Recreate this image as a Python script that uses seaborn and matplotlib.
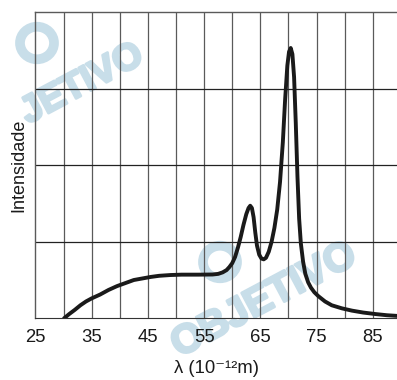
import numpy as np
import pandas as pd
import matplotlib
matplotlib.use('Agg')
import matplotlib.pyplot as plt
import matplotlib.patheffects as pe
from matplotlib.patches import Circle
import seaborn as sns

# curve (y in grid units, 0..4)
lam = [30.1, 31.0, 32.0, 33.0, 34.0, 35.0, 36.5, 38.0, 39.5, 41.0, 42.5,
       44.0, 45.5, 47.0, 49.0, 51.0, 54.0, 56.5, 57.5, 58.3, 59.0, 59.5,
       60.0, 60.5, 61.0, 61.5, 62.0, 62.5, 62.9, 63.2, 63.5, 63.8, 64.1,
       64.4, 64.8, 65.2, 65.6, 66.0, 66.5, 67.0, 67.5, 68.0, 68.5, 69.0,
       69.4, 69.8, 70.1, 70.4, 70.7, 71.0, 71.3, 71.6, 71.9, 72.2, 72.6,
       73.0, 73.5, 74.0, 74.6, 75.3, 76.5, 77.7, 79.5, 81.3, 83.3, 85.4,
       87.5, 89.6]
intens = [0.0, 0.055, 0.11, 0.17, 0.22, 0.26, 0.31, 0.37, 0.42, 0.46, 0.50,
          0.52, 0.54, 0.555, 0.565, 0.57, 0.57, 0.572, 0.58, 0.60, 0.63, 0.67,
          0.72, 0.80, 0.92, 1.06, 1.22, 1.36, 1.44, 1.47, 1.44, 1.32, 1.12,
          0.95, 0.83, 0.78, 0.77, 0.79, 0.87, 1.00, 1.18, 1.42, 1.78, 2.30,
          2.85, 3.30, 3.48, 3.53, 3.45, 3.15, 2.55, 1.85, 1.30, 0.98, 0.74,
          0.58, 0.47, 0.40, 0.34, 0.29, 0.22, 0.17, 0.13, 0.10, 0.075, 0.056,
          0.04, 0.03]
xticks = [25, 35, 45, 55, 65, 75, 85]

sns.set_style('white')
plt.rcParams['font.family'] = ['Liberation Sans', 'DejaVu Sans']

W, H = 397, 380
fig = plt.figure(figsize=(W / 100, H / 100), dpi=100)
ax = fig.add_axes([35.4 / W, 61.7 / H, 361.6 / W, 306.3 / H])

# "OBJETIVO" watermark, faint, under everything
wm = '#c8dee9'
thick = [pe.withStroke(linewidth=2, foreground=wm)]
for (px, py, s, fs) in [(82, 84, 'JETIVO', 27), (264, 300, 'OBJETIVO', 29)]:
    ax.text(px / W, 1 - py / H, s, transform=fig.transFigure,
            rotation=28, color=wm, fontsize=fs, fontweight='bold',
            ha='center', va='center', zorder=0, clip_on=False,
            path_effects=thick)
for (px, py) in [(37, 43), (220, 262)]:
    ax.add_patch(Circle((px / W, 1 - py / H), 17 / W, transform=fig.transFigure,
                        fill=False, ec=wm, lw=7, zorder=0, clip_on=False))

for v in range(30, 90, 5):
    ax.axvline(v, color='#5a5a5a', lw=0.9, zorder=1)
for h in [1, 2, 3]:
    ax.axhline(h, color='#222222', lw=0.9, zorder=1)

df = pd.DataFrame({'lam': lam, 'I': intens})
sns.lineplot(data=df, x='lam', y='I', sort=False, estimator=None,
             color='#1a1a1a', lw=2.8, ax=ax, zorder=3,
             solid_joinstyle='round', solid_capstyle='round')

ax.set_xlim(25, 89.3)
ax.set_ylim(0, 4)
ax.set_xticks(xticks)
ax.set_xticklabels([str(t) for t in xticks])
ax.set_yticks([])
ax.tick_params(axis='x', length=0, pad=7.5, labelsize=13.3, colors='#1a1a1a')
ax.set_xlabel('λ (10⁻¹²m)', fontsize=13.3, labelpad=10, color='#1a1a1a')
ax.set_ylabel('Intensidade', fontsize=13, labelpad=6, color='#1a1a1a')
for s in ['top', 'left']:
    ax.spines[s].set_color('#5a5a5a')
    ax.spines[s].set_linewidth(1.0)
ax.spines['bottom'].set_color('#333333')
ax.spines['right'].set_visible(False)

fig.savefig('out.png', dpi=100)
